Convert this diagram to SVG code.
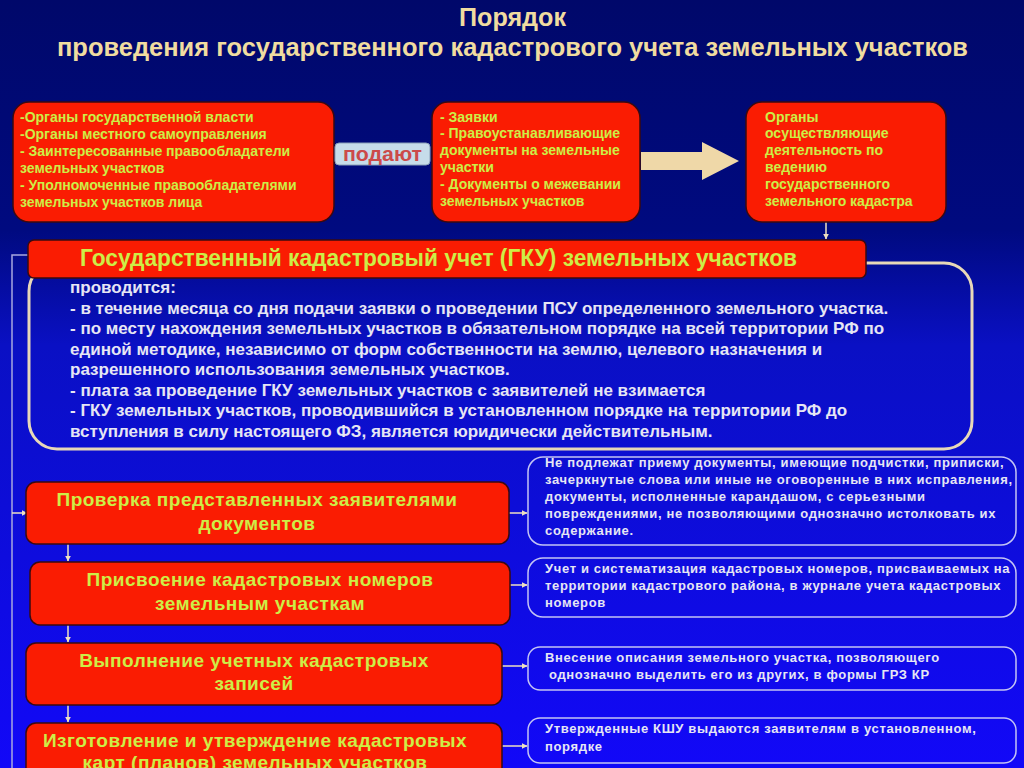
<svg xmlns="http://www.w3.org/2000/svg" width="1024" height="768" viewBox="0 0 1024 768">
<defs>
<linearGradient id="bg" x1="0" y1="0" x2="0" y2="1">
<stop offset="0" stop-color="#00086a"/>
<stop offset="0.3" stop-color="#000a80"/>
<stop offset="0.45" stop-color="#0a10c4"/>
<stop offset="1" stop-color="#1208f8"/>
</linearGradient>
<marker id="ah" viewBox="0 0 10 10" refX="9" refY="5" markerWidth="6" markerHeight="6" orient="auto" markerUnits="userSpaceOnUse">
<path d="M0,0 L10,5 L0,10 z" fill="#efe0c0"/>
</marker>
<style>
.red{fill:#fa1c02;stroke:#3a0a10;stroke-width:1.5}
.yt{font-family:"Liberation Sans",Arial,sans-serif;font-weight:bold;fill:#cdee46}
.s14{font-size:14px}
.s19{font-size:19px;letter-spacing:0.5px;text-anchor:middle}
.wt{font-family:"Liberation Sans",Arial,sans-serif;font-weight:bold;fill:#e6e6f4}
.s13{font-size:13px;letter-spacing:0.65px}
.rb{fill:none;stroke:#c4c4f4;stroke-width:1.5}
.ln{stroke:#efe0c0;stroke-width:1.5;fill:none}
.vl{stroke:#a8a8e0;stroke-width:1.5;fill:none}
</style>
</defs>
<rect x="0" y="0" width="1024" height="768" fill="url(#bg)"/>

<g id="title" font-family="'Liberation Sans',Arial,sans-serif" font-weight="bold" fill="#f0dca0" font-size="25">
<text x="459" y="26" textLength="107" lengthAdjust="spacingAndGlyphs">Порядок</text>
<text x="57" y="56" textLength="911" lengthAdjust="spacingAndGlyphs">проведения государственного кадастрового учета земельных участков</text>
</g>

<g id="connectors">
<polyline class="vl" points="28,255 12,255 12,768"/>
<line class="ln" x1="12" y1="513" x2="27" y2="513" marker-end="url(#ah)"/>
<line class="ln" x1="826" y1="222" x2="826" y2="239" marker-end="url(#ah)"/>
<line class="ln" x1="68" y1="544" x2="68" y2="561" marker-end="url(#ah)"/>
<line class="ln" x1="68" y1="625" x2="68" y2="642" marker-end="url(#ah)"/>
<line class="ln" x1="68" y1="705" x2="68" y2="722" marker-end="url(#ah)"/>
<line class="ln" x1="509" y1="513" x2="527" y2="513" marker-end="url(#ah)"/>
<line class="ln" x1="510" y1="585" x2="527" y2="585" marker-end="url(#ah)"/>
<line class="ln" x1="502" y1="666" x2="527" y2="666" marker-end="url(#ah)"/>
<line class="ln" x1="502" y1="746" x2="527" y2="746" marker-end="url(#ah)"/>
<polygon points="641,152 702,152 702,142 739,161 702,180 702,170 641,170" fill="#efd8a8"/>
</g>

<g id="applicants">
<rect class="red" x="13" y="102" width="321" height="120" rx="16"/>
<g class="yt s14">
<text x="20" y="122">-Органы государственной власти</text>
<text x="20" y="139">-Органы местного самоуправления</text>
<text x="20" y="156">- Заинтересованные правообладатели</text>
<text x="20" y="173">земельных участков</text>
<text x="20" y="190">- Уполномоченные правообладателями</text>
<text x="20" y="207">земельных участков лица</text>
</g>
</g>

<g id="podayut">
<rect x="335" y="143" width="95" height="22" rx="4" fill="#c6dcea" stroke="#8aa0b8" stroke-width="1"/>
<text x="382.5" y="161" text-anchor="middle" font-family="'Liberation Sans',Arial,sans-serif" font-weight="bold" font-size="20" fill="#cc4a4a" textLength="79" lengthAdjust="spacingAndGlyphs">подают</text>
</g>

<g id="documents">
<rect class="red" x="432" y="102" width="208" height="120" rx="16"/>
<g class="yt s14">
<text x="440" y="122">- Заявки</text>
<text x="440" y="138">- Правоустанавливающие</text>
<text x="440" y="155">документы на земельные</text>
<text x="440" y="172">участки</text>
<text x="440" y="189">- Документы о межевании</text>
<text x="440" y="206">земельных участков</text>
</g>
</g>

<g id="cadastre-bodies">
<rect class="red" x="746" y="102" width="200" height="120" rx="16"/>
<g class="yt s14">
<text x="765" y="122">Органы</text>
<text x="765" y="138">осуществляющие</text>
<text x="765" y="155">деятельность по</text>
<text x="765" y="172">ведению</text>
<text x="765" y="189">государственного</text>
<text x="765" y="206">земельного кадастра</text>
</g>
</g>

<g id="gku">
<rect x="29" y="263" width="943" height="186" rx="28" fill="none" stroke="#e8d8b8" stroke-width="3"/>
<rect class="red" x="28" y="240" width="838" height="38" rx="6"/>
<text class="yt" x="80" y="266" font-size="23" textLength="717" lengthAdjust="spacingAndGlyphs">Государственный кадастровый учет (ГКУ) земельных участков</text>
<g class="wt" font-size="17">
<text x="70" y="293">проводится:</text>
<text x="70" y="314">- в течение месяца со дня подачи заявки о проведении ПСУ определенного земельного участка.</text>
<text x="70" y="334">- по месту нахождения земельных участков в обязательном порядке на всей территории РФ по</text>
<text x="70" y="355">единой методике, независимо от форм собственности на землю, целевого назначения и</text>
<text x="70" y="375">разрешенного использования земельных участков.</text>
<text x="70" y="396">- плата за проведение ГКУ земельных участков с заявителей не взимается</text>
<text x="70" y="416">- ГКУ земельных участков, проводившийся в установленном порядке на территории РФ до</text>
<text x="70" y="437">вступления в силу настоящего ФЗ, является юридически действительным.</text>
</g>
</g>

<g id="step1">
<rect class="red" x="26" y="482" width="483" height="62" rx="10"/>
<g class="yt s19">
<text x="257" y="506">Проверка представленных заявителями</text>
<text x="257" y="530">документов</text>
</g>
</g>
<g id="step2">
<rect class="red" x="30" y="562" width="480" height="63" rx="10"/>
<g class="yt s19">
<text x="260" y="586">Присвоение кадастровых номеров</text>
<text x="260" y="610">земельным участкам</text>
</g>
</g>
<g id="step3">
<rect class="red" x="26" y="643" width="476" height="62" rx="10"/>
<g class="yt s19">
<text x="254" y="667">Выполнение учетных кадастровых</text>
<text x="254" y="690">записей</text>
</g>
</g>
<g id="step4">
<rect class="red" x="26" y="723" width="476" height="60" rx="10"/>
<g class="yt s19">
<text x="255" y="747">Изготовление и утверждение кадастровых</text>
<text x="255" y="769">карт (планов) земельных участков</text>
</g>
</g>

<g id="note1">
<rect class="rb" x="528" y="457" width="488" height="88" rx="15"/>
<g class="wt s13">
<text x="545" y="467">Не подлежат приему документы, имеющие подчистки, приписки,</text>
<text x="545" y="484">зачеркнутые слова или иные не оговоренные в них исправления,</text>
<text x="545" y="501">документы, исполненные карандашом, с серьезными</text>
<text x="545" y="518">повреждениями, не позволяющими однозначно истолковать их</text>
<text x="545" y="535">содержание.</text>
</g>
</g>
<g id="note2">
<rect class="rb" x="528" y="558" width="488" height="59" rx="15"/>
<g class="wt s13">
<text x="545" y="573">Учет и систематизация кадастровых номеров, присваиваемых на</text>
<text x="545" y="590">территории кадастрового района, в журнале учета кадастровых</text>
<text x="545" y="607">номеров</text>
</g>
</g>
<g id="note3">
<rect class="rb" x="528" y="647" width="488" height="43" rx="12"/>
<g class="wt s13">
<text x="545" y="662">Внесение описания земельного участка, позволяющего</text>
<text x="549" y="679">однозначно выделить его из других, в формы ГРЗ КР</text>
</g>
</g>
<g id="note4">
<rect class="rb" x="528" y="718" width="488" height="45" rx="12"/>
<g class="wt s13">
<text x="545" y="733">Утвержденные КШУ выдаются заявителям в установленном,</text>
<text x="545" y="751">порядке</text>
</g>
</g>
</svg>
